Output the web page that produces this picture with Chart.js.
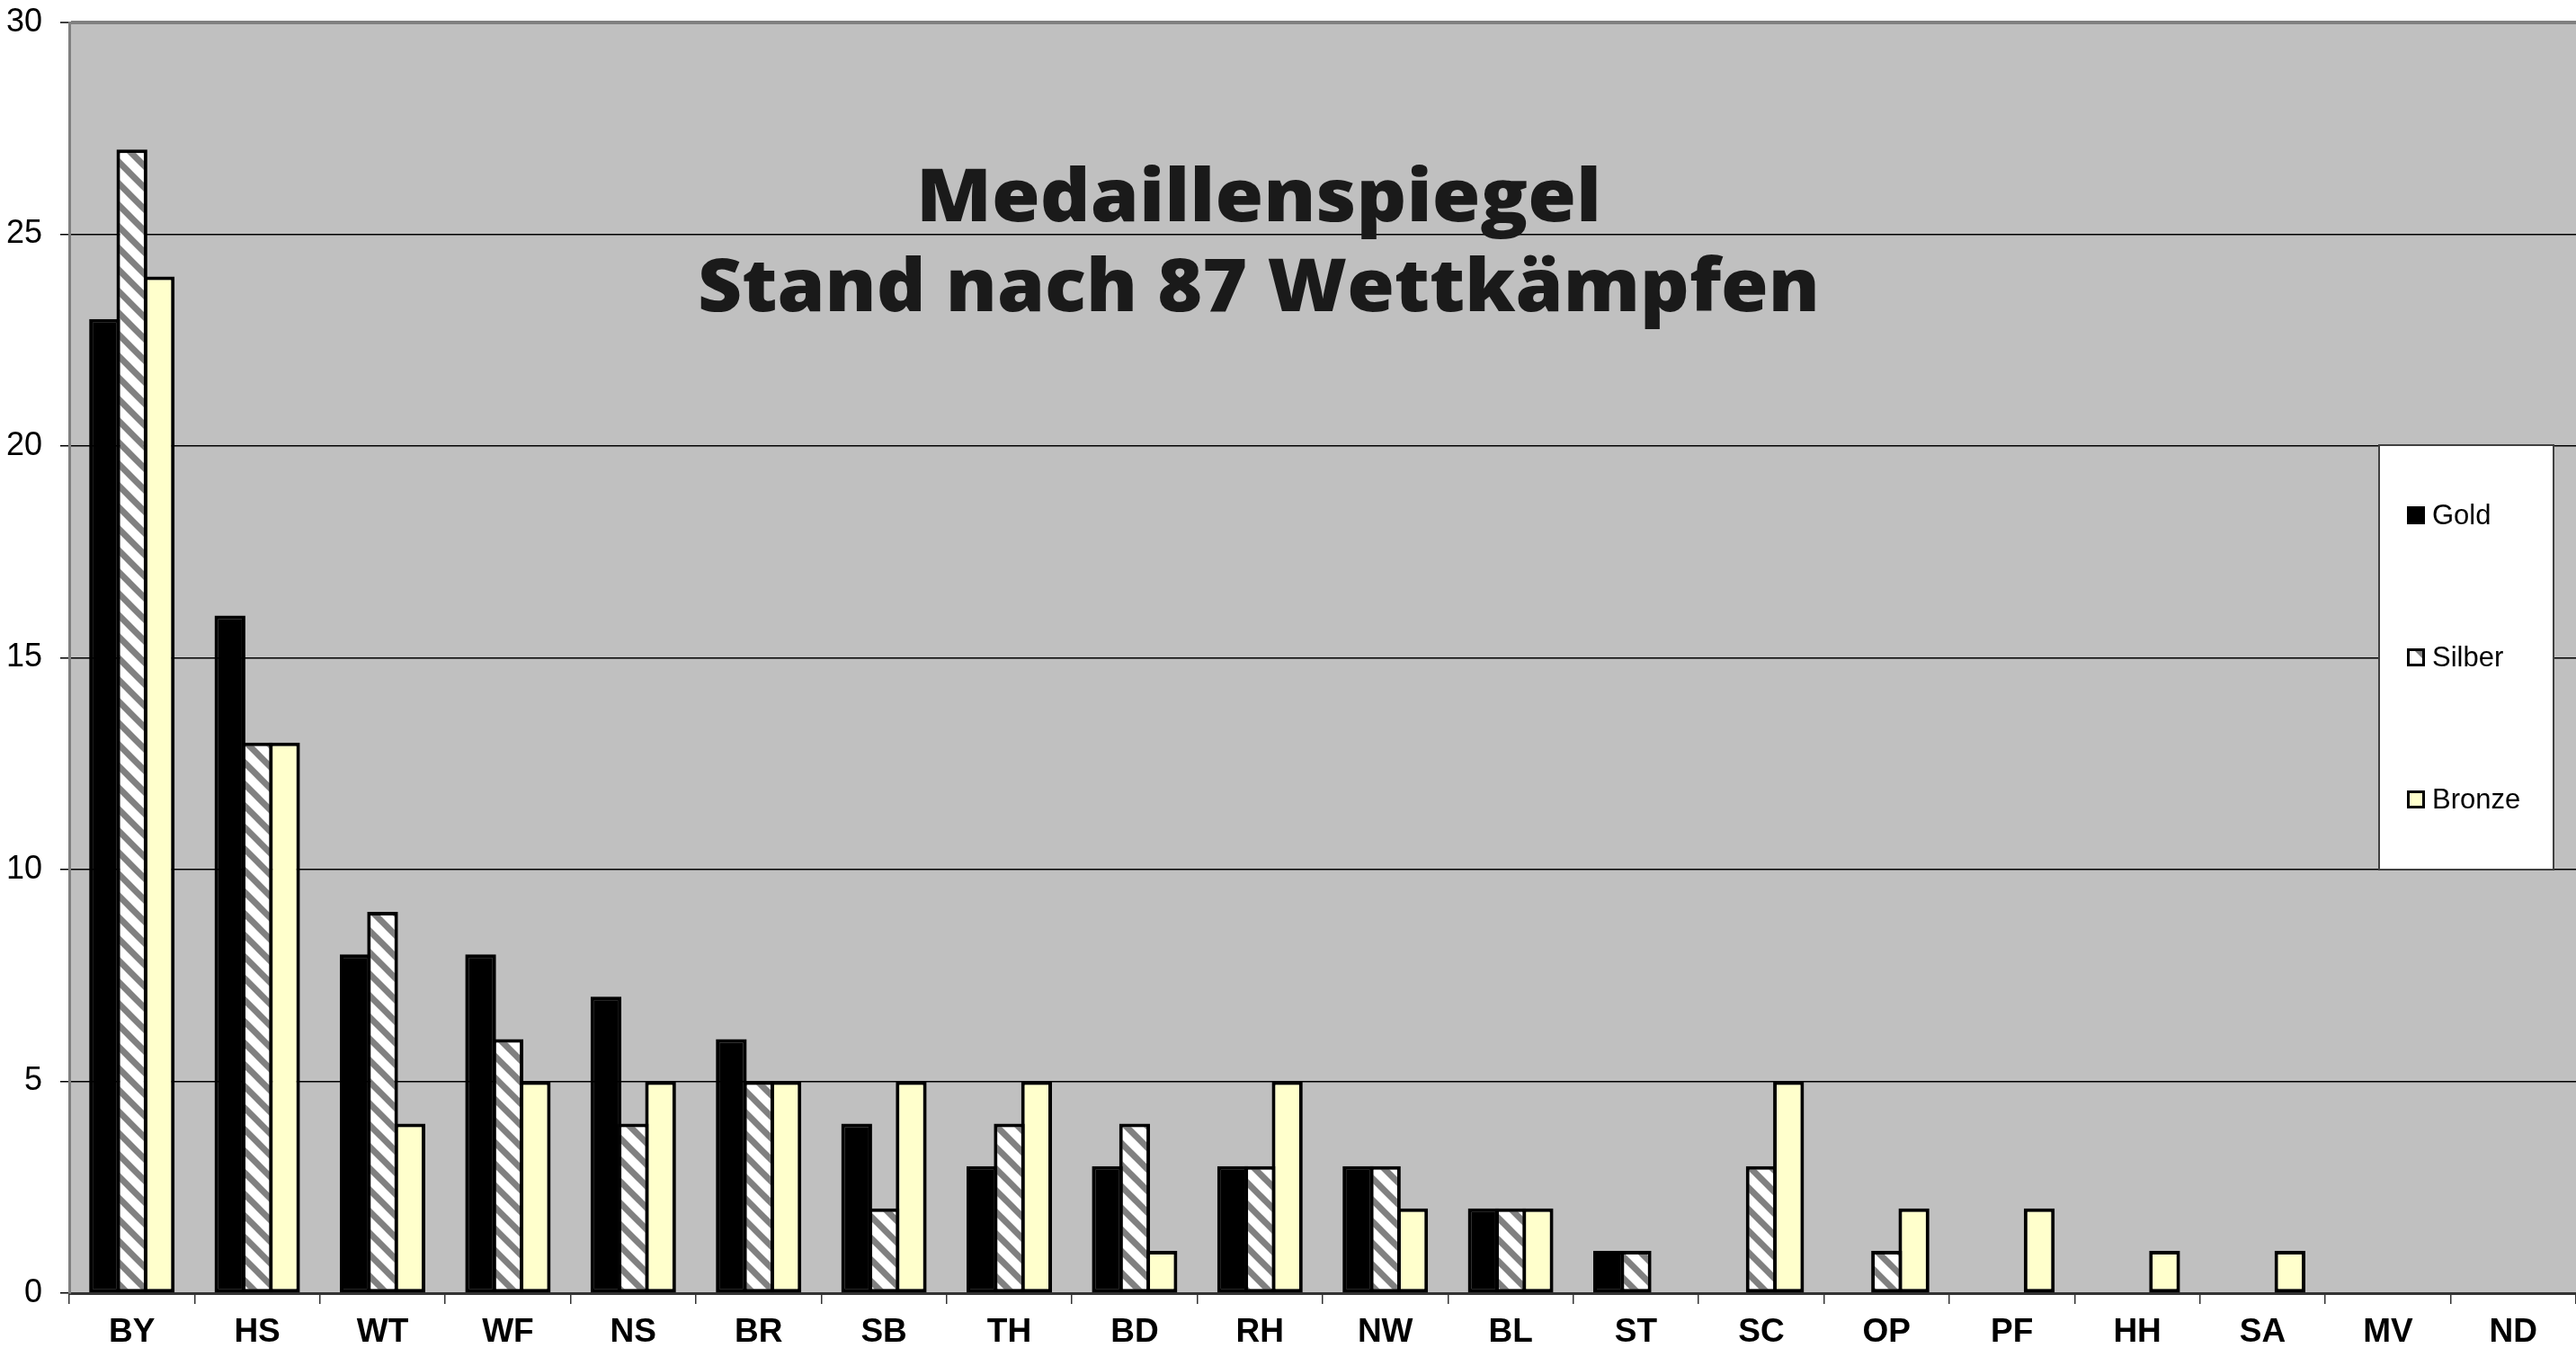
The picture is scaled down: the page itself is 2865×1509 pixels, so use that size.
<!DOCTYPE html>
<html lang="de">
<head>
<meta charset="UTF-8">
<title>Medaillenspiegel</title>
<script src="https://cdn.jsdelivr.net/npm/chart.js"></script>
<style>
  body { margin: 0; padding: 0; background: #fff; }
  #chart { display: block; }
</style>
</head>
<body>
<canvas id="chart" width="2865" height="1509"></canvas>
<script>
const laender = ['BY', 'HS', 'WT', 'WF', 'NS', 'BR', 'SB', 'TH', 'BD', 'RH',
                 'NW', 'BL', 'ST', 'SC', 'OP', 'PF', 'HH', 'SA', 'MV', 'ND'];
const gold   = [23, 16, 8, 8, 7, 6, 4, 3, 3, 3, 3, 2, 1, 0, 0, 0, 0, 0, 0, 0];
const silber = [27, 13, 9, 6, 4, 5, 2, 4, 4, 3, 3, 2, 1, 3, 1, 0, 0, 0, 0, 0];
const bronze = [24, 13, 4, 5, 5, 5, 5, 5, 1, 5, 2, 2, 0, 5, 2, 2, 1, 1, 0, 0];
const yTicks = [0, 5, 10, 15, 20, 25, 30];
const titel = ['Medaillenspiegel', 'Stand nach 87 Wettkämpfen'];

const canvas = document.getElementById('chart');
const ctx = canvas.getContext('2d');
const schrift = '"Liberation Sans", Arial, sans-serif';

// weiss mit grauen Schraegstreifen fuer Silber
function streifenMuster() {
    const s = 24;
    const c = document.createElement('canvas');
    c.width = s; c.height = s;
    const g = c.getContext('2d');
    g.fillStyle = '#fff';
    g.fillRect(0, 0, s, s);
    g.strokeStyle = '#808080';
    g.lineWidth = 7;
    for (const o of [-s, 0, s]) {
        g.beginPath();
        g.moveTo(o - 3, -3);
        g.lineTo(o + s + 3, s + 3);
        g.stroke();
    }
    return ctx.createPattern(c, 'repeat');
}
const muster = streifenMuster();

const hintergrund = {
    id: 'hintergrund',
    beforeDraw(chart) {
        const a = chart.chartArea;
        const c = chart.ctx;
        c.save();
        c.fillStyle = '#fff';
        c.fillRect(0, 0, chart.width, chart.height);
        c.fillStyle = '#c0c0c0';
        c.fillRect(a.left, a.top, a.right - a.left, a.bottom - a.top);
        c.restore();
    }
};

const ueberschrift = {
    id: 'ueberschrift',
    afterDatasetsDraw(chart) {
        const c = chart.ctx;
        const zeilen = [
            { text: titel[0], y: 246, breite: 762 },
            { text: titel[1], y: 346, breite: 1248 }
        ];
        c.save();
        c.fillStyle = '#1a1a1a';
        c.textAlign = 'center';
        c.textBaseline = 'alphabetic';
        c.font = '800 81px "Open Sans", sans-serif';
        for (const z of zeilen) {
            const w = c.measureText(z.text).width;
            c.save();
            c.translate(1400, z.y);
            c.scale(z.breite / w, 1);
            c.fillText(z.text, 0, 0);
            c.restore();
        }
        c.restore();
    }
};

const legende = {
    id: 'legende',
    afterDraw(chart) {
        const c = chart.ctx;
        const box = { x: 2646, y: 495, w: 194, h: 472 };
        const mitten = [573, 731, 889];
        c.save();
        c.fillStyle = '#fff';
        c.fillRect(box.x, box.y, box.w, box.h);
        c.strokeStyle = '#404040';
        c.lineWidth = 2;
        c.strokeRect(box.x, box.y, box.w, box.h);
        c.font = '31px ' + schrift;
        c.textBaseline = 'middle';
        c.textAlign = 'left';
        chart.data.datasets.forEach((ds, i) => {
            const y = mitten[i];
            const mx = 2677, my = y - 10, ms = 20;
            c.fillStyle = '#000';
            c.fillRect(mx, my, ms, ms);
            if (i === 1) {
                c.fillStyle = '#fff';
                c.fillRect(mx + 3, my + 3, ms - 6, ms - 6);
                c.fillStyle = '#808080';
                c.beginPath();
                c.moveTo(mx + ms - 3, my + 3);
                c.lineTo(mx + ms - 3, my + 11);
                c.lineTo(mx + ms - 11, my + 3);
                c.closePath();
                c.fill();
            } else if (i === 2) {
                c.fillStyle = '#ffffcc';
                c.fillRect(mx + 3, my + 3, ms - 6, ms - 6);
            }
            c.fillStyle = '#000';
            c.fillText(ds.label, 2705, y + 1);
        });
        c.restore();
    }
};

new Chart(ctx, {
    type: 'bar',
    data: {
        labels: laender,
        datasets: [
            { label: 'Gold', data: gold, backgroundColor: '#000', borderColor: '#000' },
            { label: 'Silber', data: silber, backgroundColor: muster, borderColor: '#000' },
            { label: 'Bronze', data: bronze, backgroundColor: '#ffffcc', borderColor: '#000' }
        ]
    },
    options: {
        responsive: false,
        devicePixelRatio: 1,
        animation: false,
        layout: { padding: { top: 25, left: 0, right: 0, bottom: 0 } },
        datasets: {
            bar: {
                borderWidth: 4,
                borderSkipped: false,
                inflateAmount: 0,
                // Balken ueberlappen leicht, damit sich Nachbarn eine Kante teilen
                categoryPercentage: 0.653,
                barPercentage: 1.132
            }
        },
        plugins: {
            legend: { display: false },
            title: { display: false },
            tooltip: { enabled: false }
        },
        scales: {
            x: {
                grid: {
                    offset: true,
                    drawOnChartArea: false,
                    color: '#333',
                    lineWidth: 1.5,
                    tickLength: 12
                },
                border: { color: '#333', width: 3 },
                ticks: {
                    color: '#000',
                    font: { family: schrift, weight: 'bold', size: 37 },
                    padding: 10,
                    maxRotation: 0,
                    autoSkip: false
                },
                afterFit: s => { s.height = 71; s.paddingLeft = 0; s.paddingRight = 0; }
            },
            y: {
                min: 0,
                max: 30,
                afterBuildTicks: s => { s.ticks = yTicks.map(v => ({ value: v })); },
                ticks: {
                    color: '#000',
                    font: { family: schrift, size: 36 },
                    padding: 20
                },
                grid: {
                    color: c => c.tick && c.tick.value === 30 ? '#808080' : '#000',
                    lineWidth: c => c.tick && c.tick.value === 30 ? 4 : 1.5,
                    tickColor: '#000',
                    tickWidth: 1.5,
                    tickLength: 10
                },
                border: { color: '#808080', width: 3 },
                afterFit: s => { s.width = 77; s.paddingTop = 0; s.paddingBottom = 0; }
            }
        }
    },
    plugins: [hintergrund, ueberschrift, legende]
});
</script>
</body>
</html>
